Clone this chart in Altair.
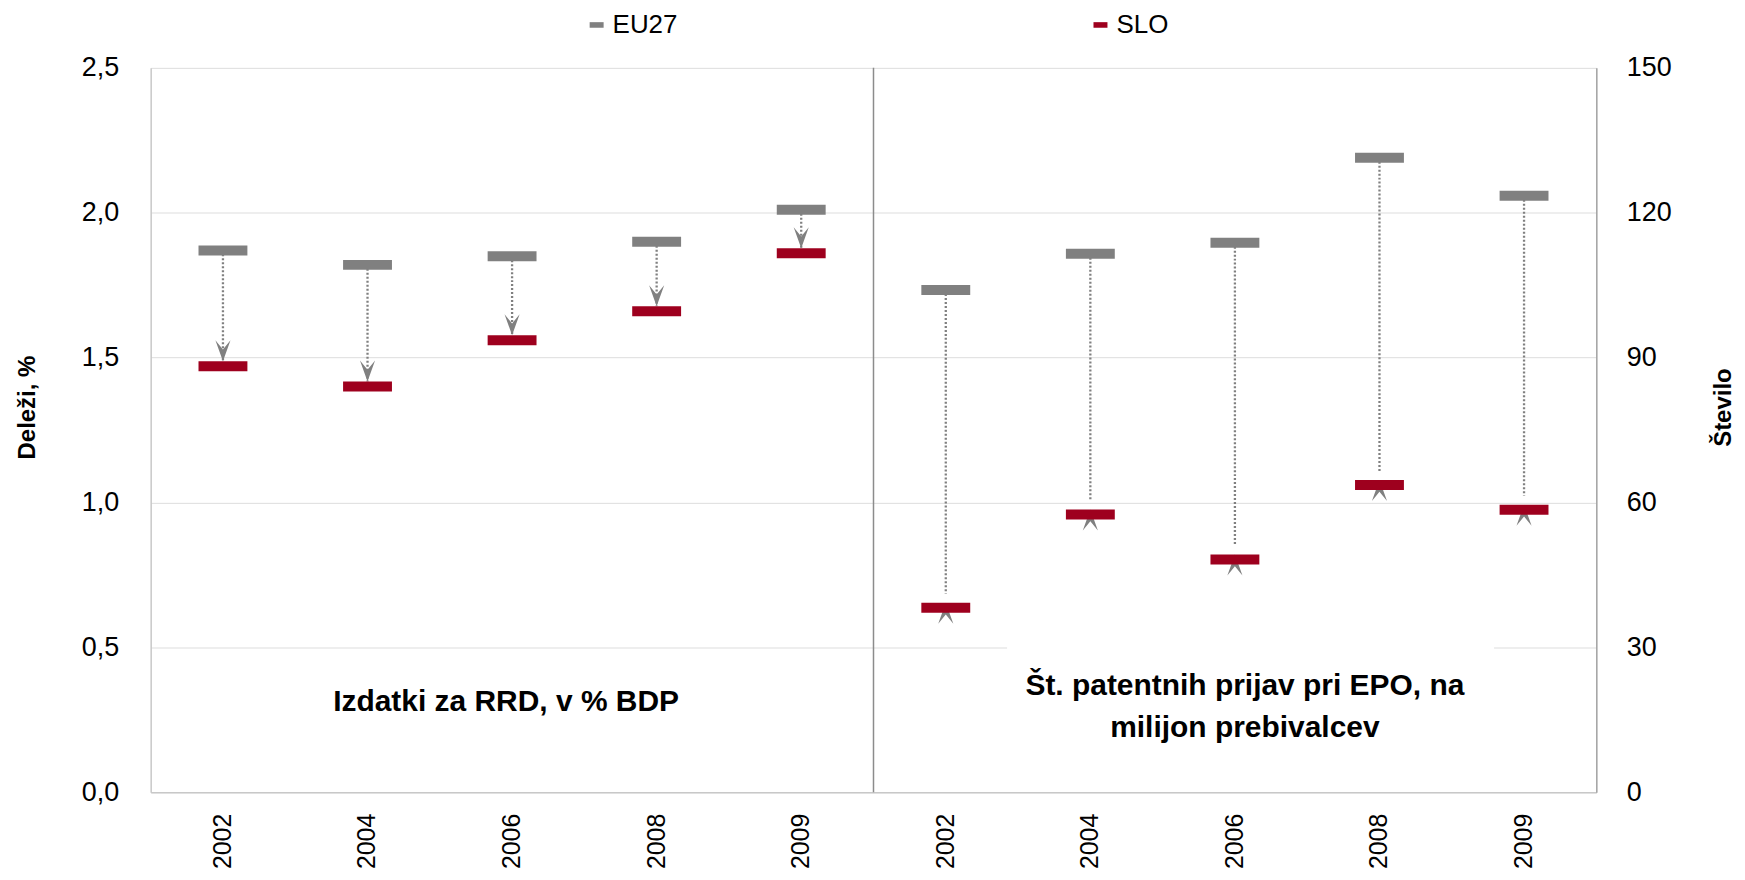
import altair as alt
import pandas as pd

# ---- data ----
years = ["2002", "2004", "2006", "2008", "2009"]
eu27_rrd = [1.87, 1.82, 1.85, 1.90, 2.01]      # Izdatki za RRD, v % BDP
slo_rrd = [1.47, 1.40, 1.56, 1.66, 1.86]
eu27_pat = [104.0, 111.5, 113.8, 131.4, 123.5]  # patentne prijave na milijon prebivalcev
slo_pat = [38.2, 57.5, 48.2, 63.6, 58.5]

series = ["EU27", "SLO"]
colors = ["#808080", "#9E001E"]
left_ticks = [0, 0.5, 1.0, 1.5, 2.0, 2.5]
right_ticks = [0, 30, 60, 90, 120, 150]
left_title = "Deleži, %"
right_title = "Število"
left_note = "Izdatki za RRD, v % BDP"
right_note = "Št. patentnih prijav pri EPO, na\nmilijon prebivalcev"

keys_a = ["A-" + y for y in years]
keys_b = ["B-" + y for y in years]
all_keys = keys_a + keys_b

df_a = pd.DataFrame({"key": keys_a, "EU27": eu27_rrd, "SLO": slo_rrd})
df_b = pd.DataFrame({"key": keys_b, "EU27": eu27_pat, "SLO": slo_pat})

SANS = "Liberation Sans"
W, H = 1449, 726
GRAY = "#808080"

x_scale = alt.Scale(type="band", domain=all_keys, paddingInner=0, paddingOuter=0)
x_axis = alt.Axis(
    labelExpr="substring(datum.label, 2)",
    labelAngle=270,
    labelFont=SANS,
    labelFontSize=25,
    labelColor="#000000",
    labelPadding=21,
    ticks=False,
    domainColor="#c8c8c8",
    domainWidth=1.5,
    grid=False,
    title=None,
)
x_enc = alt.X("key:N", scale=x_scale, axis=x_axis)

left_axis = alt.Axis(
    orient="left",
    values=left_ticks,
    labelExpr="replace(format(datum.value, '.1f'), '.', ',')",
    grid=True,
    gridColor="#dddddd",
    gridWidth=1,
    domainColor="#c8c8c8",
    domainWidth=1.5,
    ticks=False,
    labelPadding=32,
    labelFont=SANS,
    labelFontSize=27,
    labelColor="#000000",
    title=left_title,
    titleFont=SANS,
    titleFontWeight="bold",
    titleFontSize=24,
    titleColor="#000000",
    titleAngle=270,
    titleX=-123,
    titleY=340,
    titleAlign="center",
    titleBaseline="middle",
)
right_axis = alt.Axis(
    orient="right",
    values=right_ticks,
    format="d",
    grid=False,
    domainColor="#a0a0a0",
    domainWidth=1.5,
    ticks=False,
    labelPadding=30,
    labelFont=SANS,
    labelFontSize=27,
    labelColor="#000000",
    title=right_title,
    titleFont=SANS,
    titleFontWeight="bold",
    titleFontSize=24,
    titleColor="#000000",
    titleAngle=270,
    titleX=127,
    titleY=340,
    titleAlign="center",
    titleBaseline="middle",
)

color_enc = alt.Color(
    "series:N",
    scale=alt.Scale(domain=series, range=colors),
    legend=alt.Legend(
        orient="none",
        legendX=434,
        legendY=-56,
        direction="horizontal",
        columns=2,
        columnPadding=410,
        title=None,
        symbolType="M-1,-0.4H1V0.4H-1Z",
        symbolSize=196,
        symbolStrokeWidth=0,
        labelFont=SANS,
        labelFontSize=26,
        labelColor="#000000",
        labelOffset=3,
    ),
)

ARROW_DOWN = "M0,0 L-0.36,-1 L0,-0.56 L0.36,-1 Z"
ARROW_UP = "M0,0 L-0.36,1 L0,0.56 L0.36,1 Z"


def group(df, domain, axis, arrow_shape, rule_end_offset, note, note_y, note_dx, mask=None):
    yscale = alt.Scale(domain=domain, nice=False, zero=True)
    base = alt.Chart(df)
    layers = []
    if mask is not None:
        mask_df = pd.DataFrame([mask])
        layers.append(
            alt.Chart(mask_df).mark_rect(
                color="#ffffff", opacity=1, xOffset=mask["dx1"], x2Offset=mask["dx2"]
            ).encode(
                x=alt.X("k1:N", bandPosition=0, scale=x_scale, axis=x_axis),
                x2="k2:N",
                y=alt.Y("lo:Q", scale=yscale, axis=axis),
                y2="hi:Q",
            )
        )
    rule = base.mark_rule(
        color=GRAY, strokeWidth=2.3, strokeDash=[2, 2], y2Offset=rule_end_offset
    ).encode(
        x=x_enc,
        y=alt.Y("EU27:Q", scale=yscale, axis=axis),
        y2="SLO:Q",
    )
    arrow = base.mark_point(
        shape=arrow_shape, filled=True, color=GRAY, opacity=1, size=1764,
        strokeWidth=0, yOffset=-5,
    ).encode(
        x=x_enc,
        y=alt.Y("SLO:Q", scale=yscale, axis=axis),
    )
    bars = base.transform_fold(series, as_=["series", "val"]).mark_tick(
        size=49, thickness=10, opacity=1
    ).encode(
        x=x_enc,
        y=alt.Y("val:Q", scale=yscale, axis=axis),
        color=color_enc,
    )
    note_df = pd.DataFrame({"key": [df["key"].iloc[2]], "y": [note_y], "t": [note]})
    text = alt.Chart(note_df).mark_text(
        font=SANS, fontWeight="bold", fontSize=30, align="center",
        baseline="middle", lineBreak="\n", lineHeight=42, dx=note_dx, color="#000000",
    ).encode(
        x=x_enc,
        y=alt.Y("y:Q", scale=yscale, axis=axis),
        text="t:N",
    )
    layers += [rule, arrow, bars, text]
    return alt.layer(*layers)


left = group(df_a, [0, 2.5], left_axis, ARROW_DOWN, -5, left_note, 0.31, -6)
right = group(
    df_b, [0, 150], right_axis, ARROW_UP, -14, right_note, 22.0, 10,
    mask={"k1": keys_b[1], "k2": keys_b[4], "lo": 12, "hi": 33, "dx1": -11, "dx2": -30},
)

divider_df = pd.DataFrame({"key": [keys_b[0]], "lo": [0], "hi": [2.5]})
divider = alt.Chart(divider_df).mark_rule(color="#8c8c8c", strokeWidth=1.5).encode(
    x=alt.X("key:N", bandPosition=0, scale=x_scale, axis=x_axis),
    y=alt.Y("lo:Q", scale=alt.Scale(domain=[0, 2.5], nice=False), axis=None),
    y2="hi:Q",
)

chart = (
    alt.layer(left, right, divider)
    .resolve_scale(y="independent")
    .properties(
        width=W,
        height=H,
        autosize=alt.AutoSizeParams(type="none"),
        padding={"left": 143, "top": 59, "right": 141, "bottom": 77},
        background="#ffffff",
    )
    .configure_view(stroke=None)
)

chart.save("out.html", embed_options={"renderer": "svg", "actions": False})
